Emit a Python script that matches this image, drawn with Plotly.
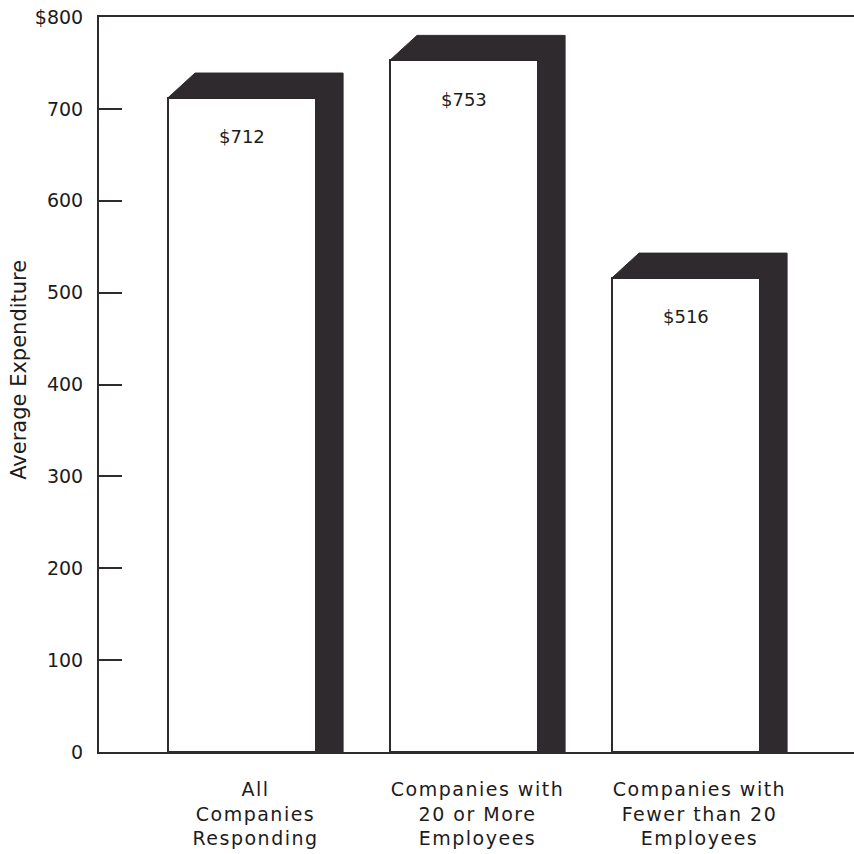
import plotly.graph_objects as go

# Average expenditure per company, by company size
categories = [
    "All<br>Companies<br>Responding",
    "Companies with<br>20 or More<br>Employees",
    "Companies with<br>Fewer than 20<br>Employees",
]
values = [712, 753, 516]
value_labels = ["$712", "$753", "$516"]
y_ticks = [0, 100, 200, 300, 400, 500, 600, 700, 800]
y_tick_labels = ["0", "100", "200", "300", "400", "500", "600", "700", "$800"]

DARK = "#2e2a2e"
TEXT = "#1c1c1c"

# pseudo-3D geometry (in axis units)
FRONT_W = 0.667   # width of the white front face
DEPTH_X = 0.122   # horizontal extrusion
DEPTH_Y = 27      # vertical extrusion

xs = list(range(len(values)))

fig = go.Figure()

# white front faces
fig.add_trace(go.Bar(
    x=xs, y=values,
    width=FRONT_W,
    offset=-(FRONT_W + DEPTH_X) / 2,
    marker=dict(color="white", line=dict(color=DARK, width=2)),
    hoverinfo="skip",
    showlegend=False,
))

# dark top + side of each bar
for x, v in zip(xs, values):
    left = x - (FRONT_W + DEPTH_X) / 2
    right = left + FRONT_W
    px = [left, left + DEPTH_X, right + DEPTH_X, right + DEPTH_X, right, right, left]
    py = [v, v + DEPTH_Y, v + DEPTH_Y, 0, 0, v, v]
    fig.add_trace(go.Scatter(
        x=px, y=py, mode="lines", fill="toself",
        fillcolor=DARK, line=dict(color=DARK, width=1),
        hoverinfo="skip", showlegend=False,
    ))

# value labels inside the front faces
for x, v, lab in zip(xs, values, value_labels):
    fig.add_annotation(
        x=x - DEPTH_X / 2, y=v, text=lab, showarrow=False,
        yshift=-39, font=dict(family="DejaVu Sans", size=18, color=TEXT),
    )

# vertical axis title
fig.add_annotation(
    xref="paper", yref="paper", x=-0.106, y=0.52,
    xanchor="center", yanchor="middle",
    text="Average Expenditure", textangle=-90, showarrow=False,
    font=dict(family="DejaVu Sans", size=21, color=TEXT),
)

fig.update_layout(
    width=854, height=854,
    margin=dict(l=99, r=0, t=17, b=102),
    paper_bgcolor="white", plot_bgcolor="white",
    bargap=0,
)
fig.update_xaxes(
    range=[-0.705, 2.696],
    tickvals=xs, ticktext=categories,
    showline=True, linecolor=DARK, linewidth=2, mirror=True,
    showgrid=False, zeroline=False, ticks="",
    ticklabelstandoff=19,
    tickfont=dict(family="DejaVu Sans", size=19, color=TEXT),
)
fig.update_yaxes(
    range=[0, 800],
    tickvals=y_ticks, ticktext=y_tick_labels,
    showline=True, linecolor=DARK, linewidth=2, mirror=False,
    showgrid=False, zeroline=False,
    ticks="inside", ticklen=23, tickwidth=2, tickcolor=DARK,
    ticklabelstandoff=10,
    tickfont=dict(family="DejaVu Sans", size=19, color=TEXT),
)

# widen the letter spacing of the category labels
spacing_js = """
var gd = document.getElementById('{plot_id}');
gd.querySelectorAll('.xtick text').forEach(function (t) {
    t.style.letterSpacing = '1.5px';
});
"""

fig.write_html("out.html", post_script=spacing_js)
